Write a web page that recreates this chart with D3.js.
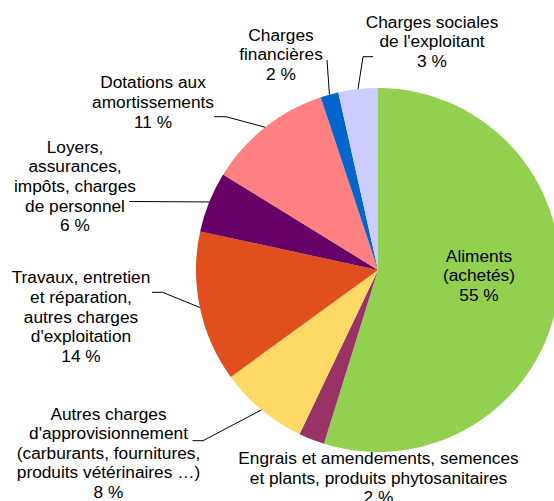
<!DOCTYPE html>
<html>
<head>
<meta charset="utf-8">
<script src="https://cdn.jsdelivr.net/npm/d3@7"></script>
<style>
  html, body { margin: 0; padding: 0; background: #fff; overflow: hidden; }
  text { font-family: "Liberation Sans", Arial, sans-serif; font-size: 17.3px; fill: #000; }
</style>
</head>
<body>
<div id="chart"></div>
<script>
// slices, clockwise from 12 o'clock
const categories = [
  "Aliments (achetés)",
  "Engrais et amendements, semences et plants, produits phytosanitaires",
  "Autres charges d'approvisionnement (carburants, fournitures, produits vétérinaires …)",
  "Travaux, entretien et réparation, autres charges d'exploitation",
  "Loyers, assurances, impôts, charges de personnel",
  "Dotations aux amortissements",
  "Charges financières",
  "Charges sociales de l'exploitant"
];
const values = [54.8, 2.3, 7.9, 13.4, 5.4, 11.1, 1.6, 3.5];
const pctLabels = ["55 %", "2 %", "8 %", "14 %", "6 %", "11 %", "2 %", "3 %"];
const labelLines = [
  ["Aliments", "(achetés)"],
  ["Engrais et amendements, semences", "et plants, produits phytosanitaires"],
  ["Autres charges", "d'approvisionnement", "(carburants, fournitures,", "produits vétérinaires …)"],
  ["Travaux, entretien", "et réparation,", "autres charges", "d'exploitation"],
  ["Loyers,", "assurances,", "impôts, charges", "de personnel"],
  ["Dotations aux", "amortissements"],
  ["Charges", "financières"],
  ["Charges sociales", "de l'exploitant"]
];
const colors = ["#92D050", "#993366", "#FFD966", "#E14F1F", "#660066", "#FF8080", "#0066CC", "#CCCCFF"];

const width = 554, height = 501;
const cx = 378, cy = 270, radius = 182;
const lineH = 19.6;

// label block: centre x, first baseline, leader elbow (null = none)
const layout = [
  { x: 479, y: 261.5, leader: null },
  { x: 378.5, y: 464, leader: null },
  { x: 108.5, y: 419.5, leader: [[192.5, 440.7], [203, 440.7]] },
  { x: 81, y: 283.3, leader: [[152, 292.3], [162.5, 292.3]] },
  { x: 75, y: 152.7, leader: [[129, 201.5]] },
  { x: 153, y: 88.3, leader: [[214, 116.7], [226, 116.7]] },
  { x: 281, y: 40.5, leader: [[327, 60]] },
  { x: 432, y: 27.7, leader: [[373, 56.7], [363, 56.7]] }
];

const svg = d3.select("#chart").append("svg")
  .attr("width", width)
  .attr("height", height);

const pie = d3.pie().sort(null).value(d => d);
const arcs = pie(values);

const arc = d3.arc().innerRadius(0).outerRadius(radius);
const edge = d3.arc().innerRadius(radius).outerRadius(radius);

const g = svg.append("g").attr("transform", `translate(${cx},${cy})`);

g.selectAll("path.slice")
  .data(arcs)
  .enter().append("path")
  .attr("class", "slice")
  .attr("d", arc)
  .attr("fill", (d, i) => colors[i]);

// leader lines, from the label to the middle of the slice's rim
const line = d3.line();
arcs.forEach((d, i) => {
  const L = layout[i];
  if (!L.leader) return;
  const c = edge.centroid(d);
  const pts = L.leader.concat([[c[0] + cx, c[1] + cy]]);
  svg.append("path")
    .attr("d", line(pts))
    .attr("fill", "none")
    .attr("stroke", "#000")
    .attr("stroke-width", 1);
});

const labels = svg.selectAll("text.lbl")
  .data(arcs)
  .enter().append("text")
  .attr("class", "lbl")
  .attr("text-anchor", "middle");

labels.each(function(d, i) {
  const t = d3.select(this);
  const lines = labelLines[i].concat([pctLabels[i]]);
  lines.forEach((s, k) => {
    t.append("tspan")
      .attr("x", layout[i].x)
      .attr("y", layout[i].y + k * lineH)
      .text(s);
  });
});
</script>
</body>
</html>
